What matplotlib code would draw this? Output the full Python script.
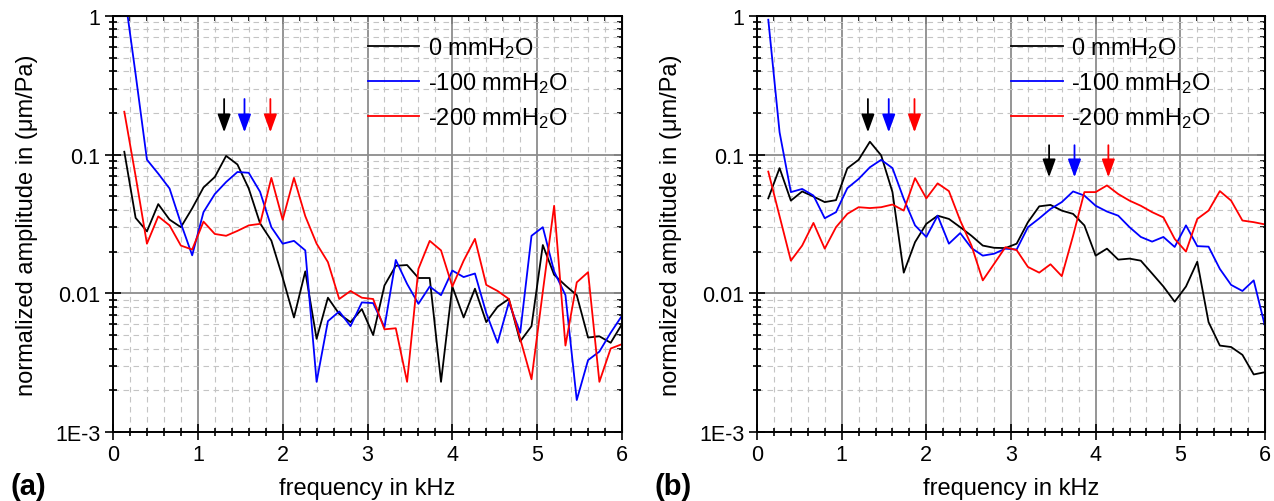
import numpy as np
import matplotlib.pyplot as plt
from matplotlib.ticker import FixedLocator, FuncFormatter, LogLocator, MultipleLocator, NullFormatter

plt.rcParams['font.family'] = ['Liberation Sans', 'DejaVu Sans']
plt.rcParams['mathtext.default'] = 'regular'

# frequency bins (kHz)
freq = np.arange(1, 46) / 7.5

# (a)
a_0 = [0.105, 0.035, 0.028, 0.044, 0.034, 0.030, 0.041, 0.058, 0.069, 0.098,
       0.085, 0.057, 0.032, 0.024, 0.013, 0.0067, 0.0144, 0.0047, 0.0093, 0.0071,
       0.0062, 0.0077, 0.0050, 0.0114, 0.0158, 0.016, 0.0129, 0.0129, 0.0023, 0.0112,
       0.0067, 0.0108, 0.0062, 0.0080, 0.0091, 0.0045, 0.0058, 0.0223, 0.0136, 0.0114,
       0.0097, 0.0048, 0.0049, 0.0044, 0.0060]
a_100 = [1.5, 0.38, 0.092, 0.073, 0.057, 0.032, 0.0188, 0.0385, 0.052, 0.0635,
         0.075, 0.074, 0.054, 0.030, 0.0228, 0.0239, 0.0204, 0.0023, 0.0063, 0.0074,
         0.0058, 0.0086, 0.0085, 0.0057, 0.0174, 0.0117, 0.0084, 0.0112, 0.0097, 0.0146,
         0.0131, 0.0139, 0.0072, 0.0044, 0.0086, 0.0052, 0.026, 0.030, 0.0144, 0.0097,
         0.0017, 0.0033, 0.0038, 0.0052, 0.0069]
a_200 = [0.204, 0.07, 0.0228, 0.0359, 0.0309, 0.0221, 0.0207, 0.0329, 0.0268, 0.026,
         0.0282, 0.0309, 0.0317, 0.068, 0.0339, 0.068, 0.036, 0.0228, 0.0168, 0.0091,
         0.0104, 0.0093, 0.0091, 0.0055, 0.0056, 0.0023, 0.015, 0.0239, 0.0204, 0.0112,
         0.0172, 0.0247, 0.0115, 0.0104, 0.0091, 0.0047, 0.0024, 0.0103, 0.0428, 0.0042,
         0.0120, 0.0142, 0.0023, 0.0040, 0.0043]

# (b)
b_0 = [0.0484, 0.080, 0.0466, 0.0543, 0.0499, 0.0455, 0.047, 0.0797, 0.0918, 0.124,
       0.0988, 0.0537, 0.0141, 0.0234, 0.0317, 0.0363, 0.0344, 0.030, 0.026, 0.0221,
       0.0213, 0.0212, 0.0228, 0.0326, 0.0424, 0.0434, 0.0395, 0.0374, 0.0309, 0.0187,
       0.0210, 0.0175, 0.0178, 0.0172, 0.0139, 0.0112, 0.0087, 0.0112, 0.0169, 0.0062,
       0.0042, 0.0041, 0.0036, 0.0026, 0.0027]
b_100 = [0.94, 0.145, 0.0537, 0.0566, 0.0507, 0.0348, 0.0385, 0.0573, 0.0668, 0.0811,
         0.0918, 0.080, 0.048, 0.0309, 0.0255, 0.0363, 0.0228, 0.0272, 0.0212, 0.0187,
         0.0193, 0.021, 0.0207, 0.030, 0.0347, 0.0406, 0.0455, 0.0543, 0.0507, 0.0428,
         0.0389, 0.0363, 0.030, 0.0255, 0.0236, 0.0255, 0.0216, 0.0309, 0.0219, 0.0217,
         0.015, 0.0115, 0.0104, 0.0124, 0.0058]
b_200 = [0.0755, 0.036, 0.0172, 0.0221, 0.0322, 0.021, 0.030, 0.0374, 0.0418, 0.0412,
         0.0418, 0.0437, 0.0395, 0.0677, 0.0484, 0.0621, 0.0546, 0.0335, 0.0221, 0.0124,
         0.0163, 0.0215, 0.0205, 0.0155, 0.0141, 0.0162, 0.0133, 0.026, 0.0537, 0.0537,
         0.060, 0.052, 0.0466, 0.0428, 0.0385, 0.0353, 0.0247, 0.020, 0.0344, 0.0395,
         0.0546, 0.0466, 0.0335, 0.0326, 0.0314]

labels = ['0 mmH$_2$O', '-100 mmH$_2$O', '-200 mmH$_2$O']
colors = ['black', 'blue', 'red']

# arrow markers: frequency positions, (top, tip)
arrows_a = [1.31, 1.55, 1.855]
arrows_b = [1.31, 1.556, 1.86]
arrows_b2 = [3.45, 3.75, 4.15]
arrow_y = (0.252, 0.145)
arrow_y2 = (0.117, 0.0687)

ytick_txt = {1: '1', 0.1: '0.1', 0.01: '0.01', 0.001: '1E-3'}

fig = plt.figure(figsize=(12.74, 5.02), dpi=100)
ax_a = fig.add_axes([113/1274, 69/502, 509/1274, 416/502])
ax_b = fig.add_axes([757/1274, 69/502, 508/1274, 416/502])


def style(ax):
    ax.set_yscale('log')
    ax.set_xlim(0, 6)
    ax.set_ylim(1e-3, 1)
    ax.xaxis.set_major_locator(MultipleLocator(1))
    ax.xaxis.set_minor_locator(MultipleLocator(0.2))
    ax.yaxis.set_major_locator(FixedLocator([1e-3, 1e-2, 1e-1, 1]))
    ax.yaxis.set_minor_locator(LogLocator(base=10, subs=np.arange(2, 10)))
    ax.yaxis.set_minor_formatter(NullFormatter())
    ax.yaxis.set_major_formatter(FuncFormatter(lambda v, p: ytick_txt.get(round(v, 3), '')))
    ax.set_axisbelow(True)
    ax.grid(which='major', color='#8c8c8c', lw=1.3, ls='-')
    ax.grid(which='minor', color='#c4c4c4', lw=0.8, ls=(0, (5, 4)))
    for s in ax.spines.values():
        s.set_linewidth(1.4)
    ax.tick_params(which='both', direction='inout', labelsize=15.5, width=1.2,
                   top=False, right=False, pad=3)
    ax.tick_params(which='major', length=12)
    ax.tick_params(which='minor', length=6)
    # inward ticks on top / right
    top = ax.secondary_xaxis('top')
    top.xaxis.set_major_locator(MultipleLocator(1))
    top.xaxis.set_minor_locator(MultipleLocator(0.2))
    top.tick_params(which='both', direction='in', labeltop=False, width=1.2)
    top.tick_params(which='major', length=6)
    top.tick_params(which='minor', length=3.5)
    right = ax.secondary_yaxis('right')
    right.yaxis.set_major_locator(FixedLocator([1e-3, 1e-2, 1e-1, 1]))
    right.yaxis.set_minor_locator(LogLocator(base=10, subs=np.arange(2, 10)))
    right.tick_params(which='both', direction='in', labelright=False, width=1.2)
    right.tick_params(which='major', length=6)
    right.tick_params(which='minor', length=3.5)
    ax.set_xlabel('frequency in kHz', fontsize=17, labelpad=8)
    ax.set_ylabel('normalized amplitude in (μm/Pa)', fontsize=17)
    ax.yaxis.set_label_coords(-0.148, 0.5)


def arrows(ax, xs, ys):
    for x, c in zip(xs, colors):
        ax.annotate('', xy=(x, ys[1]), xytext=(x, ys[0]),
                    arrowprops=dict(arrowstyle='-|>,head_length=0.55,head_width=0.2',
                                    color=c, lw=1.3, shrinkA=0, shrinkB=0,
                                    mutation_scale=20))


for ax, series in [(ax_a, [a_0, a_100, a_200]), (ax_b, [b_0, b_100, b_200])]:
    style(ax)
    for y, c, lab in zip(series, colors, labels):
        ax.plot(freq, y, color=c, lw=1.3, label=lab)
    ax.legend(loc='upper left', bbox_to_anchor=(0.5, 0.953), frameon=False,
              fontsize=17, handlelength=2.2, handletextpad=0.35, labelspacing=0.42,
              borderpad=0, borderaxespad=0)

arrows(ax_a, arrows_a, arrow_y)
arrows(ax_b, arrows_b, arrow_y)
arrows(ax_b, arrows_b2, arrow_y2)

fig.text(10/1274, 1 - 487/502, '(a)', fontsize=21, fontweight='bold', va='center')
fig.text(655/1274, 1 - 487/502, '(b)', fontsize=21, fontweight='bold', va='center')

fig.savefig('out.png', dpi=100)
